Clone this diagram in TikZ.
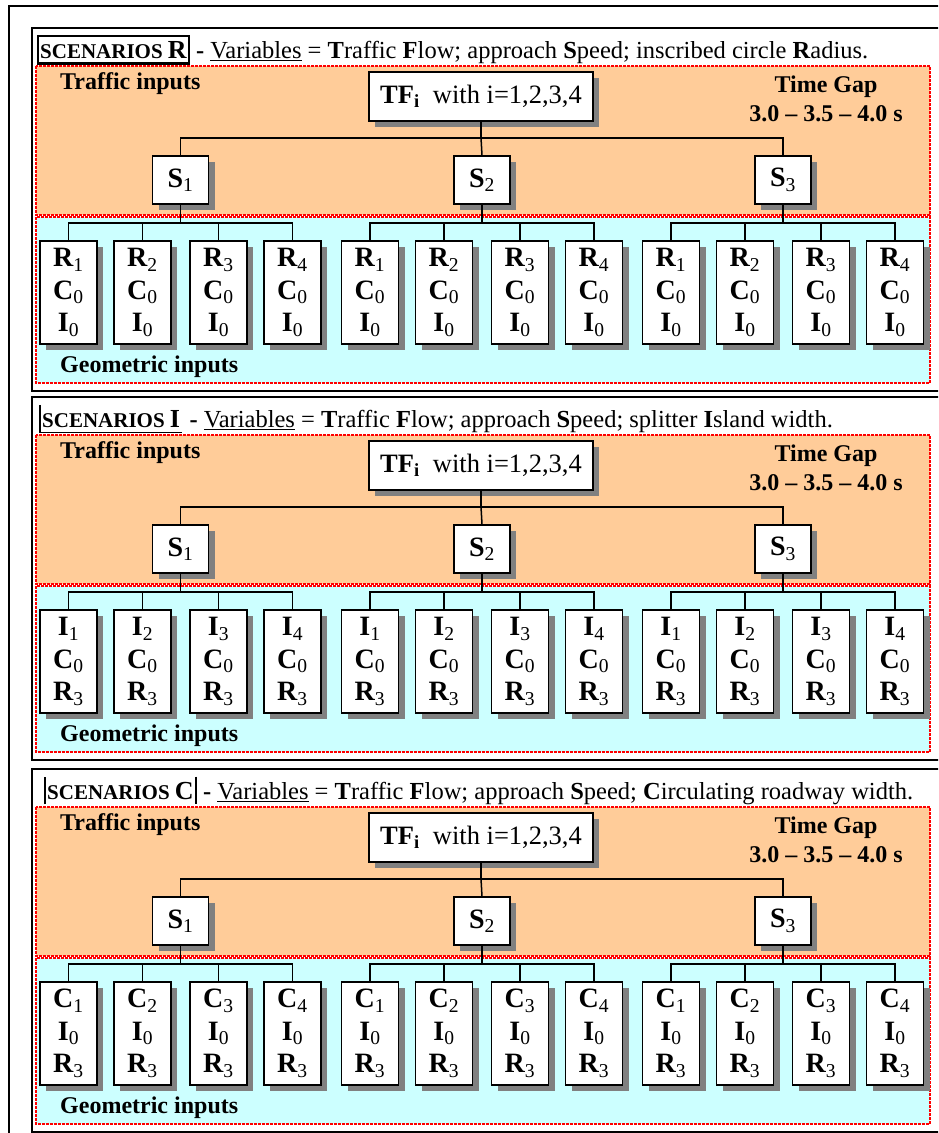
\documentclass[tikz,border=0pt]{standalone}
\usepackage{fontspec}
\setmainfont{Liberation Serif}
\usetikzlibrary{shadows,calc}
\definecolor{peach}{HTML}{FFCC99}
\definecolor{ice}{HTML}{CCFFFF}
\definecolor{shade}{HTML}{808080}
\newcommand{\subn}[1]{\textsubscript{\normalfont #1}}

\begin{document}
\begin{tikzpicture}[x=1pt, y=-1pt]
\tikzstyle{box}=[draw=black, line width=1.6pt, fill=white, inner sep=0pt,
  drop shadow={shadow xshift=6pt, shadow yshift=-6pt, fill=shade, opacity=1}]
\tikzstyle{tfbox}=[box, minimum width=224pt, minimum height=49pt, font=\fontsize{26.5}{30}\selectfont]
\tikzstyle{sbox}=[box, minimum width=56pt, minimum height=48pt, font=\bfseries\fontsize{28}{30}\selectfont]
\tikzstyle{leaf}=[box, minimum width=57pt, minimum height=103pt, align=center, font=\bfseries\fontsize{28}{32.5}\selectfont]
\tikzstyle{zone}=[draw=red, line width=1.5pt, dash pattern=on 3pt off 1pt]
\tikzstyle{inlabel}=[inner sep=0pt, font=\bfseries\fontsize{24}{29}\selectfont]
\tikzstyle{wire}=[line width=1.5pt]
\useasboundingbox (0,0) rectangle (938,1133);
\clip (0,0) rectangle (938,1133);
\draw[line width=2pt] (9,6) rectangle (990,1180);
\foreach \p/\dy/\tx/\a/\b/\c/\n/\tail in {
  R/0/38/R/C/I/0/{inscribed circle \textbf{R}adius.},
  I/369/40/I/C/R/3/{splitter \textbf{I}sland width.},
  C/741/45/C/I/R/3/{\textbf{C}irculating roadway width.}}
{
\begin{scope}[shift={(0,\dy)}]
\draw[line width=1.5pt] (32,28) rectangle (990,391);
\draw[zone, fill=peach] (36,66) rectangle (930,215);
\draw[zone, fill=ice] (36,217) rectangle (930,383);
\node[anchor=base west, inner xsep=2pt, inner ysep=5pt, font=\bfseries\fontsize{21}{24}\selectfont] (\p-tag) at (\tx,58) {SCENARIOS \fontsize{26}{26}\selectfont\p};
\node[anchor=base west, inner sep=0pt, font=\fontsize{24.5}{29}\selectfont] (\p-head) at ([xshift=7pt]\p-tag.base east) {\textbf{-} \underline{Variables} = \textbf{T}raffic \textbf{F}low; approach \textbf{S}peed; \tail};
\node[inlabel, anchor=base west] (\p-traffic) at (60,89) {Traffic inputs};
\node[inlabel, align=center] (\p-gap) at (826,99) {Time Gap\\3.0 -- 3.5 -- 4.0 s};
\node[inlabel, anchor=base west] (\p-geo) at (60,372) {Geometric inputs};
\node[tfbox] (\p-tf) at (481,96.5) {\textbf{TF\textsubscript{i}}\ \ with i=1,2,3,4};
\foreach \s/\x in {1/180.5, 2/482, 3/783} {
  \node[sbox] (\p-s\s) at (\x,180) {S\subn{\s}};
  \foreach \k/\o in {1/-112, 2/-38, 3/38, 4/112}
    \node[leaf] (\p-\s-\k) at (\x+\o,292.5) {\a\subn{\k}\\ \b\subn{0}\\ \c\subn{\n}};
  \draw[wire] (\p-s\s.south) -- ++(0,18) coordinate (\p-b\s);
  \draw[wire] (\p-\s-1.north) |- (\p-b\s) -| (\p-\s-4.north);
  \draw[wire] (\p-\s-2.north) -- (\p-\s-2.north |- \p-b\s);
  \draw[wire] (\p-\s-3.north) -- (\p-\s-3.north |- \p-b\s);
}
\draw[wire] (\p-tf.south) -- ++(0,16) coordinate (\p-top);
\draw[wire] (\p-s1.north) |- (\p-top) -| (\p-s3.north);
\draw[wire] (\p-top) -- (\p-s2.north);
\end{scope}
}
\draw[line width=2.5pt] (R-tag.north west) rectangle (R-tag.south east);
\draw[line width=1.5pt] (I-tag.north west) -- (I-tag.south west) -- (I-tag.south east);
\draw[line width=2pt] (C-tag.south west) -- (C-tag.north west) (C-tag.north east) -- (C-tag.south east);
\end{tikzpicture}
\end{document}
